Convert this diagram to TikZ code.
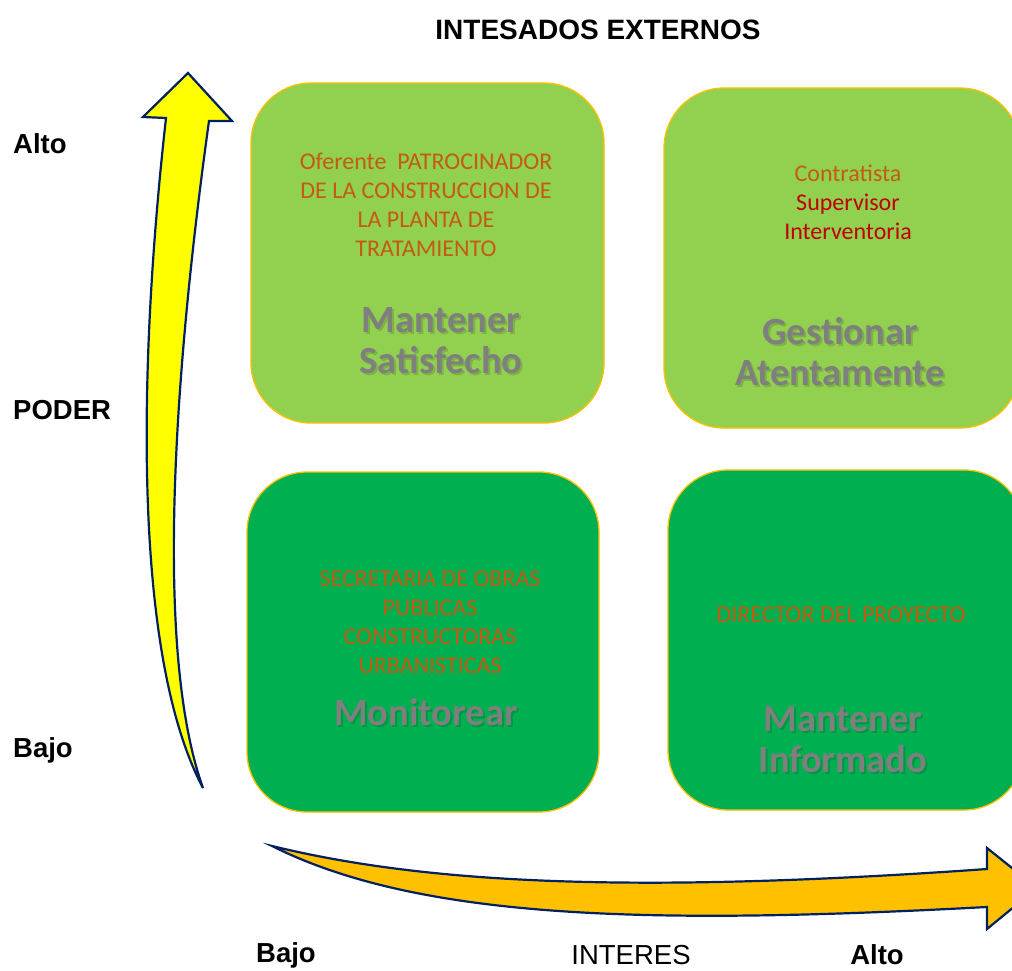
\documentclass[tikz,border=0pt]{standalone}
\usepackage{fontspec}
\setmainfont{Liberation Sans}
\newfontfamily\calibri{Carlito}
\definecolor{lgreen}{HTML}{92D050}
\definecolor{dgreen}{HTML}{00B050}
\definecolor{gold}{HTML}{FFC000}
\definecolor{navy}{HTML}{002060}
\definecolor{orng}{HTML}{C55A11}
\definecolor{redt}{HTML}{C00000}
\definecolor{grayt}{HTML}{7F7F7F}
\definecolor{ylw}{HTML}{FFFF00}
\tikzset{
  quad/.style={draw=gold, line width=1.3pt, rounded corners=60pt, inner sep=0pt, outer sep=0pt},
  who/.style={text=orng, font=\calibri\fontsize{24}{29}\selectfont, align=center, inner sep=0pt},
  act/.style={text=grayt, font=\calibri\bfseries\fontsize{38.5}{41}\selectfont, align=center, inner sep=0pt},
  actsh/.style={text=black, opacity=0.14, font=\calibri\bfseries\fontsize{38.5}{41}\selectfont, align=center, inner sep=0pt},
  lab/.style={font=\bfseries\fontsize{27.5}{30}\selectfont, inner sep=0pt},
  labr/.style={font=\fontsize{27.5}{30}\selectfont, inner sep=0pt},
  axis/.style={draw=navy, line width=2.2pt, line join=miter}
}
\begin{document}
\begin{tikzpicture}[x=1pt,y=-1pt]
\useasboundingbox (0,0) rectangle (1012,971);
\clip (0,0) rectangle (1012,971);
% quadrants
\node[quad, fill=lgreen, minimum width=353pt, minimum height=340pt] (tl) at (427.5,253) {};
\node[quad, fill=lgreen, minimum width=356pt, minimum height=340pt] (tr) at (842,258) {};
\node[quad, fill=dgreen, minimum width=352pt, minimum height=340pt] (bl) at (423,642) {};
\node[quad, fill=dgreen, minimum width=356pt, minimum height=340pt] (br) at (846,640) {};
% stakeholder texts
\node[who] (tlw) at (426,205) {Oferente\ \ PATROCINADOR\\DE LA CONSTRUCCION DE\\LA PLANTA DE\\TRATAMIENTO};
\node[who] (trw) at (848,202) {Contratista\\\textcolor{redt}{Supervisor}\\\textcolor{redt}{Interventoria}};
\node[who] (blw) at (430,622) {SECRETARIA DE OBRAS\\PUBLICAS\\CONSTRUCTORAS\\URBANISTICAS};
\node[who] (brw) at (841,615) {DIRECTOR DEL PROYECTO};
% strategy titles
\node[actsh] (tls) at (443,343) {Mantener\\Satisfecho};
\node[act] (tlt) at (441,341) {Mantener\\Satisfecho};
\node[actsh] (trs) at (842,354) {Gestionar\\Atentamente};
\node[act] (trt) at (840,352) {Gestionar\\Atentamente};
\node[actsh] (bls) at (428,714) {Monitorear};
\node[act] (blt) at (426,712) {Monitorear};
\node[actsh] (brs) at (845,742) {Mantener\\Informado};
\node[act] (brt) at (843,740) {Mantener\\Informado};
% arrows
\path[axis, fill=ylw] (188,73) -- (232,121) -- (209,121)
  .. controls (180,330) and (150,640) .. (203,788)
  .. controls (130,650) and (140,350) .. (166,118)
  -- (143,117) -- cycle;
\path[axis, fill=gold] (272,846)
  .. controls (420,882) and (620,895) .. (987,869)
  -- (987,848) -- (1037,888) -- (987,929) -- (987,907)
  .. controls (650,925) and (420,920) .. (272,846) -- cycle;
% labels
\node[lab, font=\bfseries\fontsize{28}{30}\selectfont] (title) at (598,30) {INTESADOS EXTERNOS};
\node[lab, anchor=west] (alto1) at (13,144) {Alto};
\node[lab, anchor=west] (poder) at (13,410) {PODER};
\node[lab, anchor=west] (bajo1) at (13,750) {Bajo};
\node[lab] (bajo2) at (286,955) {Bajo};
\node[labr] (interes) at (631,955) {INTERES};
\node[lab] (alto2) at (877,955) {Alto};
\end{tikzpicture}
\end{document}
